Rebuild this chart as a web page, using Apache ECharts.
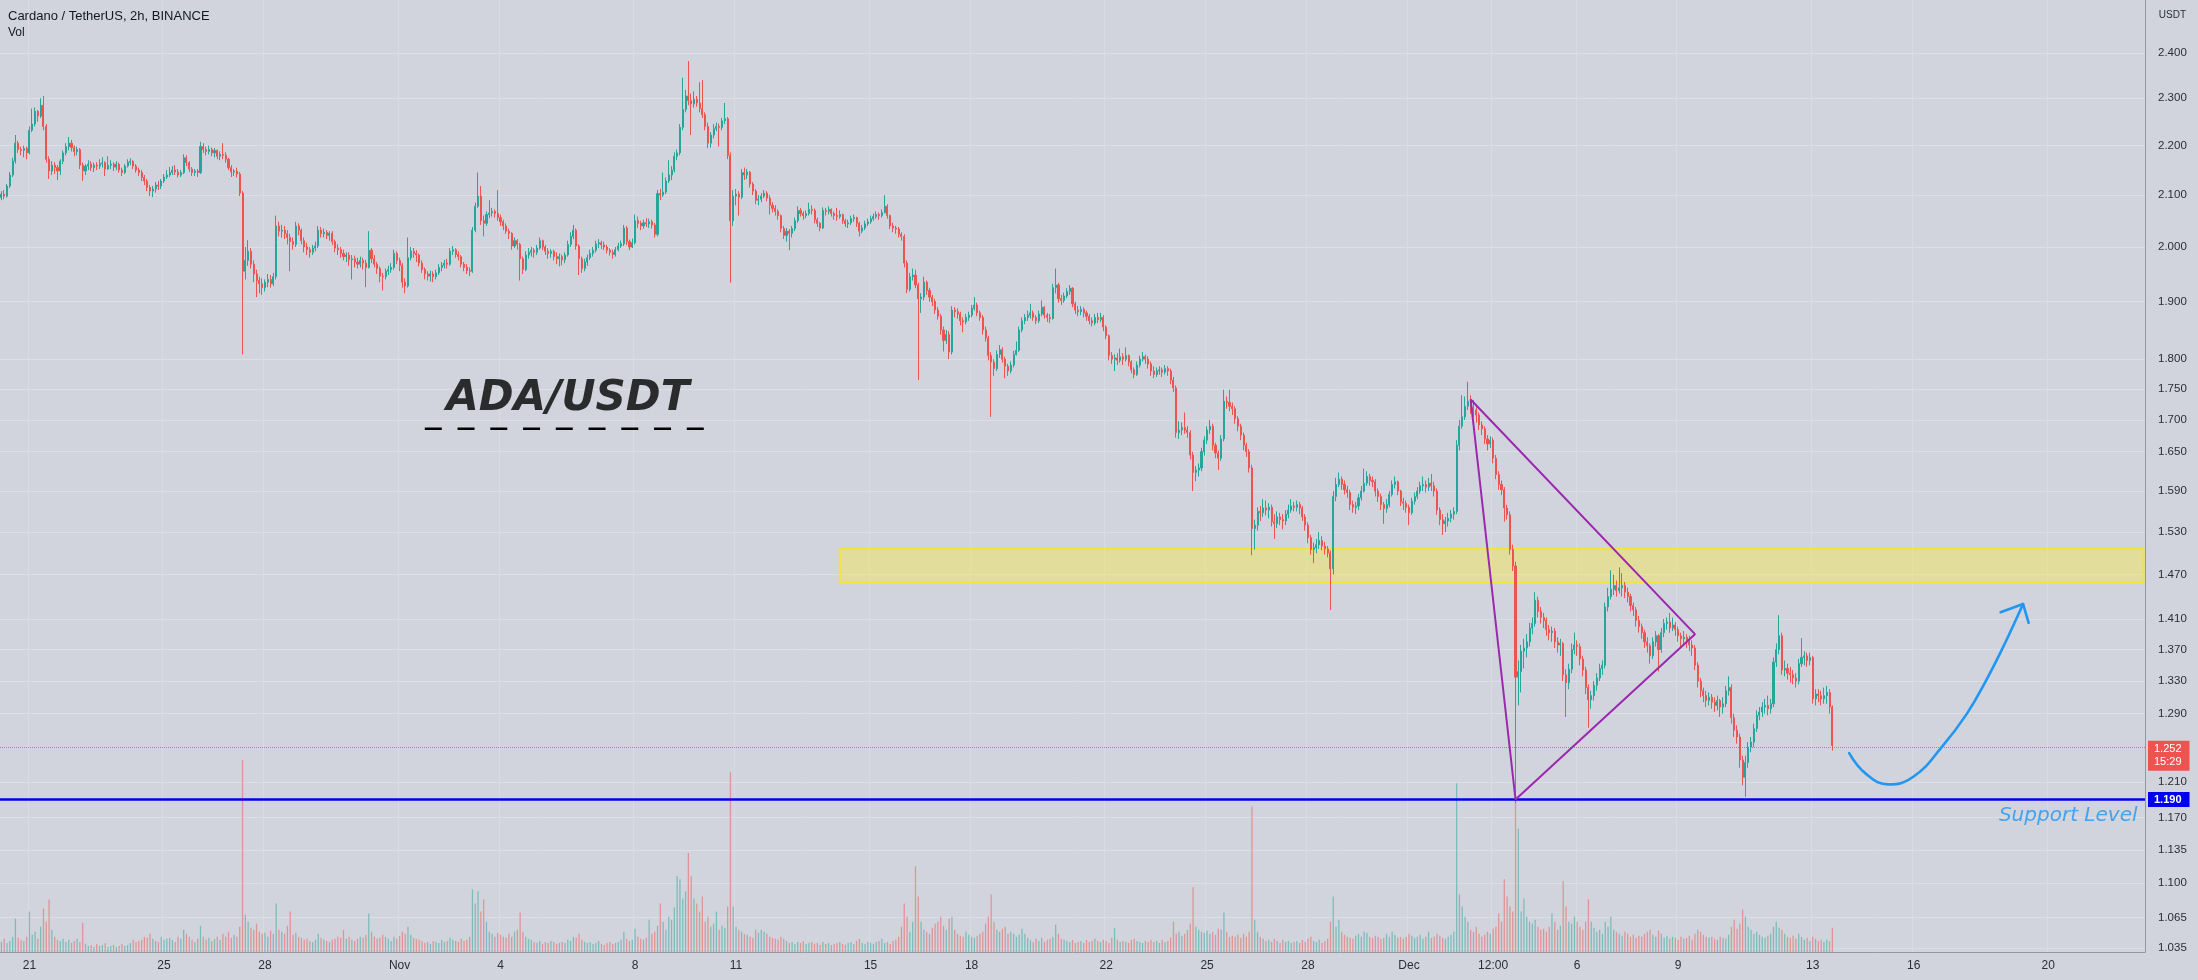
<!DOCTYPE html>
<html><head><meta charset="utf-8">
<script src="https://cdn.jsdelivr.net/npm/echarts@6/dist/echarts.min.js"></script>
<style>html,body{margin:0;padding:0;background:#d1d4dc;}#c{width:2198px;height:980px;}</style>
</head><body><div id="c"></div>
<script>
// ---- DATA (ADA/USDT 2h, Binance) ----
const firstSlotUTC = [2021, 9, 20, 4];   // first 2h slot: 2021-10-20 04:00
const slotCount = 765;                   // slots on the axis (incl. empty future)
const open = [
2.095,2.102,2.098,2.118,2.140,2.168,2.205,2.192,2.190,2.194,
2.185,2.232,2.245,2.272,2.262,2.285,2.240,2.172,2.148,2.160,
2.155,2.148,2.168,2.185,2.198,2.205,2.196,2.188,2.192,2.160,
2.148,2.158,2.162,2.155,2.160,2.158,2.163,2.165,2.152,2.160,
2.162,2.156,2.162,2.150,2.145,2.158,2.166,2.168,2.158,2.150,
2.145,2.135,2.128,2.115,2.108,2.112,2.120,2.118,2.128,2.136,
2.140,2.145,2.150,2.146,2.140,2.145,2.175,2.165,2.152,2.145,
2.148,2.145,2.198,2.192,2.188,2.192,2.185,2.190,2.178,2.182,
2.180,2.172,2.155,2.146,2.148,2.142,2.104,1.955,1.975,1.992,
1.968,1.950,1.938,1.932,1.925,1.935,1.940,1.932,1.945,2.040,
2.030,2.032,2.025,2.018,2.010,2.005,2.040,2.032,2.012,2.000,
1.995,1.990,1.998,2.002,2.032,2.025,2.028,2.022,2.026,2.010,
1.998,1.995,1.988,1.982,1.985,1.976,1.978,1.972,1.968,1.975,
1.970,1.962,1.994,1.978,1.968,1.960,1.946,1.945,1.955,1.958,
1.962,1.988,1.975,1.966,1.935,1.928,1.980,1.992,1.988,1.985,
1.970,1.958,1.950,1.946,1.950,1.945,1.952,1.962,1.966,1.970,
1.968,1.992,1.995,1.986,1.982,1.968,1.962,1.956,1.955,2.032,
2.078,2.098,2.050,2.045,2.062,2.065,2.068,2.064,2.056,2.048,
2.040,2.030,2.026,2.002,2.012,2.005,1.978,1.958,1.985,1.990,
1.994,1.990,1.998,2.012,2.000,1.992,1.988,1.992,1.982,1.978,
1.982,1.976,1.985,2.005,2.020,2.032,2.002,1.978,1.960,1.972,
1.980,1.988,1.994,2.006,2.008,2.004,2.000,1.994,1.990,1.986,
1.995,2.002,2.006,2.036,2.010,2.000,2.008,2.050,2.045,2.040,
2.046,2.044,2.048,2.042,2.024,2.103,2.100,2.106,2.128,2.140,
2.150,2.178,2.185,2.238,2.276,2.305,2.295,2.288,2.298,2.290,
2.278,2.265,2.240,2.205,2.222,2.235,2.240,2.238,2.252,2.256,
2.180,2.050,2.098,2.102,2.096,2.145,2.140,2.146,2.122,2.108,
2.090,2.092,2.098,2.104,2.094,2.080,2.074,2.068,2.060,2.035,
2.022,2.030,2.026,2.035,2.050,2.070,2.064,2.060,2.064,2.072,
2.070,2.052,2.045,2.036,2.070,2.068,2.072,2.064,2.060,2.058,
2.062,2.050,2.044,2.046,2.054,2.056,2.045,2.030,2.036,2.044,
2.048,2.054,2.058,2.062,2.060,2.066,2.078,2.060,2.040,2.036,
2.034,2.024,2.020,1.970,1.922,1.945,1.948,1.930,1.905,1.908,
1.935,1.920,1.908,1.900,1.885,1.874,1.850,1.832,1.842,1.812,
1.885,1.882,1.878,1.866,1.864,1.872,1.876,1.888,1.894,1.880,
1.872,1.850,1.836,1.806,1.795,1.784,1.808,1.816,1.800,1.788,
1.780,1.790,1.808,1.815,1.850,1.866,1.872,1.876,1.880,1.872,
1.866,1.878,1.890,1.876,1.872,1.870,1.925,1.930,1.905,1.902,
1.910,1.918,1.924,1.896,1.885,1.882,1.886,1.880,1.874,1.866,
1.862,1.872,1.868,1.872,1.855,1.840,1.806,1.800,1.802,1.798,
1.804,1.800,1.806,1.795,1.782,1.774,1.790,1.800,1.804,1.800,
1.792,1.780,1.774,1.780,1.782,1.778,1.784,1.780,1.765,1.752,
1.680,1.684,1.688,1.684,1.680,1.645,1.618,1.622,1.625,1.650,
1.668,1.684,1.690,1.660,1.648,1.640,1.670,1.730,1.728,1.722,
1.718,1.702,1.690,1.676,1.660,1.650,1.625,1.535,1.540,1.560,
1.558,1.565,1.562,1.566,1.545,1.542,1.552,1.548,1.546,1.556,
1.562,1.568,1.566,1.570,1.565,1.552,1.540,1.522,1.505,1.508,
1.512,1.518,1.510,1.506,1.500,1.478,1.582,1.600,1.608,1.600,
1.592,1.588,1.570,1.566,1.568,1.580,1.590,1.602,1.612,1.606,
1.604,1.590,1.582,1.570,1.564,1.570,1.585,1.600,1.604,1.590,
1.574,1.572,1.566,1.558,1.575,1.582,1.590,1.598,1.600,1.596,
1.602,1.598,1.590,1.562,1.548,1.542,1.546,1.550,1.556,1.560,
1.660,1.690,1.705,1.722,1.730,1.720,1.716,1.708,1.692,1.686,
1.670,1.662,1.668,1.640,1.615,1.600,1.592,1.565,1.555,1.505,
1.482,1.335,1.342,1.368,1.372,1.380,1.398,1.404,1.435,1.420,
1.412,1.408,1.396,1.392,1.394,1.380,1.376,1.378,1.338,1.328,
1.345,1.370,1.376,1.374,1.358,1.344,1.322,1.307,1.312,1.325,
1.334,1.346,1.350,1.426,1.440,1.450,1.455,1.448,1.452,1.455,
1.446,1.440,1.428,1.422,1.408,1.400,1.392,1.380,1.375,1.362,
1.380,1.388,1.370,1.392,1.404,1.406,1.398,1.402,1.396,1.388,
1.384,1.386,1.380,1.376,1.372,1.350,1.330,1.318,1.312,1.306,
1.310,1.304,1.300,1.306,1.298,1.302,1.318,1.322,1.285,1.270,
1.262,1.235,1.215,1.232,1.250,1.256,1.272,1.288,1.292,1.298,
1.300,1.296,1.302,1.354,1.370,1.388,1.344,1.346,1.340,1.338,
1.334,1.330,1.352,1.360,1.362,1.356,1.360,1.308,1.314,1.312,
1.308,1.312,1.316,1.298
];
const high = [
2.108,2.110,2.122,2.146,2.175,2.222,2.210,2.198,2.200,2.198,
2.240,2.278,2.280,2.275,2.300,2.305,2.245,2.178,2.168,2.166,
2.160,2.172,2.190,2.205,2.218,2.212,2.200,2.198,2.195,2.165,
2.162,2.170,2.168,2.165,2.166,2.172,2.176,2.168,2.178,2.170,
2.166,2.168,2.165,2.155,2.162,2.172,2.174,2.170,2.162,2.155,
2.150,2.140,2.132,2.120,2.118,2.126,2.128,2.132,2.142,2.150,
2.156,2.158,2.160,2.152,2.150,2.182,2.180,2.168,2.156,2.152,
2.152,2.208,2.205,2.198,2.200,2.196,2.195,2.192,2.188,2.205,
2.186,2.175,2.160,2.152,2.155,2.146,2.108,2.000,2.013,1.998,
1.975,1.958,1.945,1.942,1.940,1.950,1.948,1.952,2.060,2.048,
2.042,2.040,2.032,2.025,2.018,2.048,2.045,2.035,2.018,2.008,
2.000,2.004,2.010,2.040,2.038,2.035,2.032,2.030,2.030,2.014,
2.005,2.000,1.995,1.990,1.990,1.985,1.984,1.980,1.982,1.980,
1.976,2.030,1.998,1.985,1.972,1.964,1.952,1.960,1.965,1.970,
1.995,1.992,1.980,1.970,1.942,2.018,2.000,1.998,1.994,1.988,
1.975,1.962,1.955,1.956,1.955,1.958,1.968,1.972,1.976,1.978,
1.998,2.002,1.998,1.992,1.985,1.972,1.968,1.962,2.038,2.085,
2.145,2.118,2.060,2.068,2.090,2.075,2.072,2.110,2.062,2.052,
2.045,2.035,2.028,2.018,2.015,2.008,1.982,1.992,1.998,2.000,
1.998,2.004,2.018,2.014,2.004,1.998,1.996,1.995,1.990,1.988,
1.986,1.990,2.012,2.028,2.042,2.035,2.005,1.982,1.978,1.986,
1.995,2.000,2.012,2.015,2.012,2.010,2.004,1.998,1.995,2.000,
2.008,2.012,2.042,2.040,2.014,2.016,2.062,2.058,2.050,2.052,
2.055,2.054,2.052,2.046,2.110,2.112,2.145,2.135,2.170,2.158,
2.186,2.192,2.245,2.345,2.318,2.382,2.310,2.315,2.305,2.335,
2.340,2.270,2.248,2.228,2.245,2.248,2.246,2.258,2.290,2.260,
2.186,2.110,2.112,2.108,2.152,2.155,2.152,2.148,2.126,2.112,
2.100,2.104,2.110,2.108,2.100,2.086,2.080,2.072,2.062,2.040,
2.036,2.034,2.040,2.056,2.078,2.075,2.068,2.070,2.085,2.080,
2.074,2.056,2.048,2.076,2.075,2.078,2.074,2.068,2.075,2.070,
2.064,2.054,2.052,2.060,2.062,2.058,2.048,2.042,2.050,2.054,
2.060,2.064,2.068,2.066,2.072,2.100,2.082,2.062,2.046,2.040,
2.038,2.028,2.024,1.975,1.952,1.960,1.958,1.934,1.915,1.945,
1.938,1.925,1.912,1.905,1.890,1.878,1.856,1.850,1.848,1.892,
1.890,1.888,1.882,1.872,1.878,1.882,1.894,1.908,1.898,1.884,
1.876,1.856,1.840,1.812,1.800,1.815,1.824,1.820,1.804,1.792,
1.796,1.814,1.830,1.856,1.872,1.878,1.884,1.896,1.884,1.876,
1.884,1.902,1.892,1.880,1.878,1.932,1.960,1.934,1.912,1.916,
1.924,1.930,1.926,1.900,1.892,1.892,1.890,1.884,1.878,1.872,
1.878,1.880,1.880,1.876,1.858,1.842,1.812,1.808,1.810,1.818,
1.810,1.820,1.808,1.798,1.786,1.796,1.806,1.812,1.808,1.805,
1.796,1.788,1.786,1.788,1.786,1.790,1.788,1.784,1.770,1.756,
1.698,1.696,1.712,1.690,1.684,1.650,1.628,1.632,1.656,1.674,
1.690,1.700,1.694,1.664,1.652,1.676,1.749,1.738,1.749,1.728,
1.722,1.706,1.694,1.680,1.664,1.654,1.630,1.548,1.566,1.568,
1.578,1.576,1.572,1.570,1.556,1.560,1.558,1.556,1.562,1.570,
1.578,1.574,1.576,1.574,1.568,1.556,1.544,1.526,1.515,1.520,
1.530,1.524,1.516,1.510,1.504,1.590,1.610,1.618,1.612,1.606,
1.598,1.592,1.576,1.574,1.586,1.598,1.624,1.620,1.616,1.612,
1.608,1.594,1.586,1.574,1.578,1.590,1.606,1.612,1.606,1.592,
1.580,1.576,1.570,1.580,1.588,1.596,1.604,1.612,1.606,1.610,
1.616,1.604,1.594,1.566,1.556,1.552,1.558,1.562,1.566,1.668,
1.700,1.740,1.738,1.762,1.740,1.732,1.724,1.712,1.698,1.690,
1.676,1.674,1.672,1.645,1.620,1.606,1.596,1.570,1.560,1.512,
1.488,1.356,1.376,1.384,1.390,1.405,1.412,1.446,1.440,1.426,
1.418,1.412,1.402,1.400,1.398,1.386,1.384,1.380,1.345,1.352,
1.378,1.392,1.382,1.378,1.362,1.348,1.326,1.318,1.330,1.340,
1.352,1.356,1.432,1.452,1.476,1.470,1.462,1.480,1.472,1.460,
1.452,1.444,1.432,1.426,1.414,1.404,1.396,1.386,1.378,1.386,
1.394,1.390,1.398,1.410,1.412,1.418,1.412,1.406,1.400,1.392,
1.394,1.390,1.388,1.382,1.376,1.354,1.334,1.322,1.318,1.316,
1.314,1.310,1.312,1.308,1.310,1.324,1.336,1.326,1.290,1.276,
1.266,1.240,1.240,1.256,1.262,1.278,1.294,1.298,1.304,1.308,
1.312,1.308,1.360,1.378,1.415,1.392,1.356,1.352,1.348,1.344,
1.340,1.358,1.385,1.368,1.366,1.366,1.362,1.320,1.320,1.318,
1.322,1.324,1.320,1.300
];
const low = [
2.090,2.092,2.095,2.114,2.136,2.163,2.185,2.180,2.176,2.172,
2.182,2.228,2.240,2.250,2.258,2.232,2.165,2.132,2.140,2.142,
2.130,2.140,2.162,2.180,2.190,2.188,2.178,2.180,2.152,2.128,
2.140,2.150,2.148,2.146,2.150,2.152,2.155,2.138,2.150,2.152,
2.148,2.150,2.145,2.138,2.142,2.155,2.160,2.152,2.145,2.138,
2.128,2.120,2.108,2.098,2.096,2.105,2.110,2.112,2.124,2.132,
2.136,2.140,2.140,2.135,2.136,2.142,2.158,2.146,2.138,2.138,
2.136,2.142,2.185,2.180,2.182,2.178,2.176,2.172,2.170,2.172,
2.165,2.150,2.136,2.138,2.135,2.098,1.808,1.940,1.965,1.960,
1.935,1.908,1.915,1.912,1.918,1.926,1.925,1.928,1.940,2.020,
2.018,2.015,2.005,1.955,1.995,2.000,2.022,2.005,1.990,1.985,
1.980,1.985,1.992,1.998,2.018,2.018,2.015,2.012,2.004,1.990,
1.985,1.980,1.975,1.972,1.965,1.940,1.962,1.960,1.962,1.958,
1.926,1.960,1.970,1.962,1.950,1.935,1.920,1.940,1.948,1.952,
1.958,1.968,1.955,1.925,1.915,1.925,1.975,1.980,1.972,1.964,
1.952,1.940,1.938,1.936,1.935,1.940,1.948,1.955,1.960,1.960,
1.965,1.985,1.980,1.975,1.962,1.955,1.950,1.946,1.952,2.028,
2.075,2.042,2.020,2.040,2.055,2.058,2.056,2.050,2.040,2.032,
2.025,2.015,1.995,1.998,1.995,1.938,1.950,1.955,1.978,1.982,
1.980,1.985,1.995,1.994,1.985,1.978,1.980,1.975,1.968,1.964,
1.966,1.970,1.982,2.000,2.015,1.995,1.948,1.952,1.955,1.965,
1.976,1.982,1.990,1.998,1.996,1.994,1.988,1.984,1.978,1.982,
1.992,1.998,2.002,2.004,1.994,1.998,2.005,2.036,2.032,2.035,
2.038,2.036,2.035,2.018,2.020,2.090,2.096,2.102,2.124,2.130,
2.145,2.170,2.180,2.232,2.270,2.285,2.222,2.280,2.282,2.270,
2.258,2.232,2.195,2.196,2.215,2.230,2.198,2.232,2.245,2.172,
1.934,2.040,2.080,2.060,2.092,2.130,2.132,2.115,2.100,2.082,
2.080,2.086,2.094,2.088,2.062,2.066,2.060,2.052,2.028,2.015,
2.010,1.994,2.018,2.030,2.046,2.058,2.052,2.055,2.060,2.062,
2.045,2.038,2.030,2.034,2.060,2.062,2.058,2.052,2.050,2.054,
2.044,2.038,2.036,2.042,2.048,2.038,2.020,2.026,2.032,2.040,
2.044,2.050,2.054,2.052,2.056,2.064,2.054,2.034,2.028,2.025,
2.018,2.012,1.962,1.915,1.918,1.938,1.924,1.765,1.880,1.902,
1.912,1.900,1.892,1.878,1.868,1.842,1.813,1.826,1.800,1.808,
1.872,1.870,1.858,1.846,1.860,1.866,1.872,1.884,1.874,1.866,
1.842,1.830,1.798,1.705,1.772,1.780,1.802,1.794,1.768,1.772,
1.776,1.786,1.806,1.812,1.846,1.860,1.866,1.870,1.866,1.860,
1.862,1.874,1.870,1.864,1.862,1.868,1.915,1.898,1.894,1.898,
1.906,1.912,1.890,1.878,1.874,1.876,1.872,1.866,1.860,1.856,
1.858,1.862,1.864,1.848,1.834,1.798,1.792,1.780,1.790,1.794,
1.790,1.796,1.788,1.776,1.768,1.772,1.786,1.796,1.792,1.784,
1.772,1.768,1.770,1.774,1.770,1.774,1.772,1.758,1.745,1.672,
1.670,1.676,1.678,1.672,1.638,1.590,1.605,1.612,1.620,1.644,
1.662,1.678,1.652,1.640,1.622,1.636,1.666,1.718,1.714,1.708,
1.694,1.682,1.668,1.652,1.642,1.618,1.497,1.505,1.532,1.546,
1.552,1.554,1.550,1.538,1.520,1.536,1.540,1.534,1.540,1.550,
1.558,1.560,1.560,1.556,1.546,1.532,1.514,1.498,1.486,1.500,
1.506,1.504,1.498,1.494,1.422,1.470,1.575,1.596,1.592,1.585,
1.580,1.562,1.558,1.556,1.562,1.576,1.588,1.598,1.598,1.596,
1.582,1.574,1.562,1.542,1.558,1.566,1.582,1.594,1.584,1.568,
1.562,1.558,1.540,1.555,1.570,1.578,1.586,1.590,1.588,1.590,
1.590,1.582,1.555,1.540,1.526,1.530,1.538,1.544,1.548,1.556,
1.652,1.686,1.700,1.716,1.710,1.704,1.696,1.684,1.676,1.662,
1.652,1.656,1.632,1.608,1.592,1.584,1.545,1.548,1.498,1.475,
1.186,1.300,1.316,1.346,1.360,1.374,1.390,1.400,1.412,1.404,
1.398,1.388,1.382,1.380,1.372,1.366,1.362,1.330,1.286,1.320,
1.340,1.364,1.362,1.350,1.336,1.314,1.273,1.296,1.306,1.318,
1.330,1.338,1.346,1.420,1.436,1.442,1.440,1.444,1.440,1.438,
1.432,1.420,1.414,1.400,1.392,1.384,1.372,1.366,1.352,1.358,
1.374,1.342,1.366,1.386,1.396,1.392,1.394,1.388,1.380,1.372,
1.376,1.372,1.368,1.362,1.344,1.322,1.310,1.304,1.298,1.300,
1.296,1.292,1.294,1.286,1.290,1.298,1.312,1.278,1.262,1.254,
1.226,1.206,1.193,1.226,1.244,1.250,1.268,1.282,1.286,1.290,
1.288,1.290,1.298,1.348,1.364,1.338,1.336,1.332,1.328,1.326,
1.322,1.326,1.348,1.350,1.348,1.350,1.302,1.300,1.304,1.300,
1.302,1.302,1.290,1.246
];
const close = [
2.102,2.098,2.118,2.140,2.168,2.205,2.192,2.190,2.194,2.185,
2.232,2.245,2.272,2.262,2.285,2.240,2.172,2.148,2.160,2.155,
2.148,2.168,2.185,2.198,2.205,2.196,2.188,2.192,2.160,2.148,
2.158,2.162,2.155,2.160,2.158,2.163,2.165,2.152,2.160,2.162,
2.156,2.162,2.150,2.145,2.158,2.166,2.168,2.158,2.150,2.145,
2.135,2.128,2.115,2.108,2.112,2.120,2.118,2.128,2.136,2.140,
2.145,2.150,2.146,2.140,2.145,2.175,2.165,2.152,2.145,2.148,
2.145,2.198,2.192,2.188,2.192,2.185,2.190,2.178,2.182,2.180,
2.172,2.155,2.146,2.148,2.142,2.104,1.955,1.975,1.992,1.968,
1.950,1.938,1.932,1.925,1.935,1.940,1.932,1.945,2.040,2.030,
2.032,2.025,2.018,2.010,2.005,2.040,2.032,2.012,2.000,1.995,
1.990,1.998,2.002,2.032,2.025,2.028,2.022,2.026,2.010,1.998,
1.995,1.988,1.982,1.985,1.976,1.978,1.972,1.968,1.975,1.970,
1.962,1.994,1.978,1.968,1.960,1.946,1.945,1.955,1.958,1.962,
1.988,1.975,1.966,1.935,1.928,1.980,1.992,1.988,1.985,1.970,
1.958,1.950,1.946,1.950,1.945,1.952,1.962,1.966,1.970,1.968,
1.992,1.995,1.986,1.982,1.968,1.962,1.956,1.955,2.032,2.078,
2.098,2.050,2.045,2.062,2.065,2.068,2.064,2.056,2.048,2.040,
2.030,2.026,2.002,2.012,2.005,1.978,1.958,1.985,1.990,1.994,
1.990,1.998,2.012,2.000,1.992,1.988,1.992,1.982,1.978,1.982,
1.976,1.985,2.005,2.020,2.032,2.002,1.978,1.960,1.972,1.980,
1.988,1.994,2.006,2.008,2.004,2.000,1.994,1.990,1.986,1.995,
2.002,2.006,2.036,2.010,2.000,2.008,2.050,2.045,2.040,2.046,
2.044,2.048,2.042,2.024,2.103,2.100,2.106,2.128,2.140,2.150,
2.178,2.185,2.238,2.276,2.305,2.295,2.288,2.298,2.290,2.278,
2.265,2.240,2.205,2.222,2.235,2.240,2.238,2.252,2.256,2.180,
2.050,2.098,2.102,2.096,2.145,2.140,2.146,2.122,2.108,2.090,
2.092,2.098,2.104,2.094,2.080,2.074,2.068,2.060,2.035,2.022,
2.030,2.026,2.035,2.050,2.070,2.064,2.060,2.064,2.072,2.070,
2.052,2.045,2.036,2.070,2.068,2.072,2.064,2.060,2.058,2.062,
2.050,2.044,2.046,2.054,2.056,2.045,2.030,2.036,2.044,2.048,
2.054,2.058,2.062,2.060,2.066,2.078,2.060,2.040,2.036,2.034,
2.024,2.020,1.970,1.922,1.945,1.948,1.930,1.905,1.908,1.935,
1.920,1.908,1.900,1.885,1.874,1.850,1.832,1.842,1.812,1.885,
1.882,1.878,1.866,1.864,1.872,1.876,1.888,1.894,1.880,1.872,
1.850,1.836,1.806,1.795,1.784,1.808,1.816,1.800,1.788,1.780,
1.790,1.808,1.815,1.850,1.866,1.872,1.876,1.880,1.872,1.866,
1.878,1.890,1.876,1.872,1.870,1.925,1.930,1.905,1.902,1.910,
1.918,1.924,1.896,1.885,1.882,1.886,1.880,1.874,1.866,1.862,
1.872,1.868,1.872,1.855,1.840,1.806,1.800,1.802,1.798,1.804,
1.800,1.806,1.795,1.782,1.774,1.790,1.800,1.804,1.800,1.792,
1.780,1.774,1.780,1.782,1.778,1.784,1.780,1.765,1.752,1.680,
1.684,1.688,1.684,1.680,1.645,1.618,1.622,1.625,1.650,1.668,
1.684,1.690,1.660,1.648,1.640,1.670,1.730,1.728,1.722,1.718,
1.702,1.690,1.676,1.660,1.650,1.625,1.535,1.540,1.560,1.558,
1.565,1.562,1.566,1.545,1.542,1.552,1.548,1.546,1.556,1.562,
1.568,1.566,1.570,1.565,1.552,1.540,1.522,1.505,1.508,1.512,
1.518,1.510,1.506,1.500,1.478,1.582,1.600,1.608,1.600,1.592,
1.588,1.570,1.566,1.568,1.580,1.590,1.602,1.612,1.606,1.604,
1.590,1.582,1.570,1.564,1.570,1.585,1.600,1.604,1.590,1.574,
1.572,1.566,1.558,1.575,1.582,1.590,1.598,1.600,1.596,1.602,
1.598,1.590,1.562,1.548,1.542,1.546,1.550,1.556,1.560,1.660,
1.690,1.705,1.722,1.730,1.720,1.716,1.708,1.692,1.686,1.670,
1.662,1.668,1.640,1.615,1.600,1.592,1.565,1.555,1.505,1.482,
1.335,1.342,1.368,1.372,1.380,1.398,1.404,1.435,1.420,1.412,
1.408,1.396,1.392,1.394,1.380,1.376,1.378,1.338,1.328,1.345,
1.370,1.376,1.374,1.358,1.344,1.322,1.307,1.312,1.325,1.334,
1.346,1.350,1.426,1.440,1.450,1.455,1.448,1.452,1.455,1.446,
1.440,1.428,1.422,1.408,1.400,1.392,1.380,1.375,1.362,1.380,
1.388,1.370,1.392,1.404,1.406,1.398,1.402,1.396,1.388,1.384,
1.386,1.380,1.376,1.372,1.350,1.330,1.318,1.312,1.306,1.310,
1.304,1.300,1.306,1.298,1.302,1.318,1.322,1.285,1.270,1.262,
1.235,1.215,1.232,1.250,1.256,1.272,1.288,1.292,1.298,1.300,
1.296,1.302,1.354,1.370,1.388,1.344,1.346,1.340,1.338,1.334,
1.330,1.352,1.360,1.362,1.356,1.360,1.308,1.314,1.312,1.308,
1.312,1.316,1.298,1.252
];
// volume, millions of ADA
const volume = [
20,26,18,22,30,66,28,24,22,30, 80,34,40,26,50,86,60,104,44,30, 24,22,26,20,24,18,22,26,20,58,
16,12,14,10,16,12,14,18,10,12, 14,10,12,16,12,14,18,24,20,22, 24,30,28,36,26,22,20,30,24,26,
28,24,20,30,26,44,36,30,24,20, 26,52,30,24,28,22,26,30,24,36, 30,40,28,34,30,50,380,74,60,48,
44,56,40,36,38,30,42,36,96,44, 40,36,52,80,34,38,30,28,24,26, 22,20,24,36,28,24,22,20,24,26,
30,28,44,26,30,24,22,26,30,28, 34,76,40,30,26,28,34,30,26,22, 30,26,32,40,36,50,34,28,26,24,
22,18,20,16,22,20,18,24,20,22, 28,24,22,20,26,22,24,30,124,96, 120,80,104,60,40,36,30,38,34,30,
28,36,30,40,44,78,40,30,26,24, 20,18,22,16,20,18,22,20,16,18, 20,18,24,22,30,28,36,24,20,18,
20,16,18,22,16,14,18,20,16,18, 20,24,40,26,22,24,46,30,26,24, 28,64,36,40,52,96,60,44,70,64,
88,150,144,106,120,196,150,106,96,80, 110,60,70,50,56,80,44,52,48,90, 356,90,50,44,40,36,34,30,28,44,
38,44,40,36,30,28,26,24,30,26, 22,18,20,16,20,18,22,16,18,20, 16,18,14,20,16,18,14,16,18,20,
16,14,18,20,16,22,26,18,16,20, 18,16,20,22,26,18,20,16,22,24, 30,50,96,70,40,60,170,110,60,44,
40,36,48,56,60,70,52,44,66,70, 44,36,32,30,40,34,30,28,32,36, 40,56,70,114,60,44,40,46,50,36,
40,36,30,34,46,36,28,24,20,26, 22,28,20,24,26,30,54,36,26,24, 22,20,24,18,20,22,18,24,20,22,
26,22,20,24,22,18,28,48,24,20, 22,20,18,24,26,22,20,18,22,20, 24,20,22,18,24,20,22,28,60,36,
40,32,36,44,56,128,50,44,40,38, 42,36,40,34,46,44,78,40,30,32, 30,34,28,36,30,40,288,64,40,30,
26,22,24,20,26,22,18,24,20,22, 18,20,22,18,24,20,26,30,22,20, 24,18,22,26,60,110,50,64,40,34,
30,28,26,32,36,30,40,38,30,28, 32,30,26,28,36,30,40,34,28,30, 26,30,36,32,28,30,34,26,30,40,
28,30,36,32,28,26,30,34,40,334, 114,90,70,60,44,40,50,36,30,34, 40,36,46,50,76,60,144,110,90,80,
310,244,80,106,70,60,56,64,50,44, 46,40,50,76,60,44,52,140,90,60, 56,70,60,50,44,60,104,60,48,40,
44,36,60,50,70,44,40,36,32,40, 36,30,34,28,32,30,36,40,44,34, 30,42,36,28,32,26,30,28,24,30,
26,28,32,24,36,44,40,34,30,28, 30,26,24,30,28,26,34,50,64,46, 56,84,70,50,44,36,40,34,30,28,
32,36,50,60,48,44,36,30,28,32, 26,36,30,24,28,22,30,26,22,24, 20,24,22,48
];
const volumeAxisMax = 380;
// x-axis tick labels
const tickDates = ['2021-10-21 00:00','2021-10-25 00:00','2021-10-28 00:00','2021-11-01 00:00','2021-11-04 00:00','2021-11-08 00:00','2021-11-11 00:00','2021-11-15 00:00','2021-11-18 00:00','2021-11-22 00:00','2021-11-25 00:00','2021-11-28 00:00','2021-12-01 00:00','2021-12-03 12:00','2021-12-06 00:00','2021-12-09 00:00','2021-12-13 00:00','2021-12-16 00:00','2021-12-20 00:00'];
const tickTexts = ['21','25','28','Nov','4','8','11','15','18','22','25','28','Dec','12:00','6','9','13','16','20'];
// price-axis tick labels
const priceTicks = [2.4,2.3,2.2,2.1,2.0,1.9,1.8,1.75,1.7,1.65,1.59,1.53,1.47,1.41,1.37,1.33,1.29,1.25,1.21,1.17,1.135,1.1,1.065,1.035];
const priceMin = 1.0311, priceMax = 2.5226;
// annotations
const supportPrice = 1.19;
const countdownText = '15:29';
const countdownLabelPrice = 1.2443;   // where the last-price tag box is centred
const zoneTimes = ['2021-11-14 02:00','2021-12-22 20:00'];
const zonePrices = [1.506, 1.459];
const triangleTimes = ['2021-12-02 20:00','2021-12-04 04:00','2021-12-09 12:00','2021-12-02 20:00'];
const trianglePrices = [1.733, 1.19, 1.39, 1.733];
const arrowTimes = ['2021-12-14 02:00','2021-12-14 14:00','2021-12-15 06:00','2021-12-16 00:00','2021-12-16 20:00','2021-12-17 14:00','2021-12-18 04:00','2021-12-18 16:00','2021-12-19 06:00'];
const arrowPrices = [1.243,1.219,1.207,1.216,1.250,1.290,1.332,1.374,1.430];
const arrowHeadTimes = ['2021-12-18 14:00','2021-12-19 06:00','2021-12-19 10:00'];
const arrowHeadPrices = [1.419,1.430,1.405];
const titleTime = '2021-11-06 00:00', titlePrice = 1.734;
const dashTimes = ['2021-11-01 18:00','2021-11-10 02:00'], dashPrice = 1.686;
const supportTextTime = '2021-12-22 16:00', supportTextPrice = 1.172;

// ---- build ----
function pad(n){return String(n).padStart(2,'0');}
function slotName(t){const d=new Date(t);return d.getUTCFullYear()+'-'+pad(d.getUTCMonth()+1)+'-'+pad(d.getUTCDate())+' '+pad(d.getUTCHours())+':00';}
const t0 = Date.UTC(firstSlotUTC[0],firstSlotUTC[1],firstSlotUTC[2],firstSlotUTC[3]);
const categories = [];
for (let i=0;i<slotCount;i++) categories.push(slotName(t0 + i*7200000));
const tickMap = {};
tickDates.forEach((d,k)=>{tickMap[d]=tickTexts[k];});
const candleData = close.map((c,i)=>[open[i], c, low[i], high[i]]);
const volData = volume.map((v,i)=>({value:v, itemStyle:{color: close[i]>=open[i] ? 'rgba(38,166,154,0.5)' : 'rgba(239,83,80,0.5)'}}));
const lastPrice = close[close.length-1];
const pairs = (ts, ps) => ts.map((t,k)=>[t, ps[k]]);

const BG = '#d1d4dc', GRIDH = '#dcdfe5', GRIDV = '#d8dbe1', TXT = '#2a2e39';
const chart = echarts.init(document.getElementById('c'), null, {renderer:'canvas', width:2198, height:980});
chart.setOption({
  backgroundColor: BG,
  animation: false,
  textStyle: {fontFamily: 'Liberation Sans, Arial, sans-serif'},
  title: [
    {text:'Cardano / TetherUS, 2h, BINANCE', left:8, top:10, padding:0, textStyle:{fontSize:13, fontWeight:'normal', color:'#131722'}},
    {text:'Vol', left:8, top:27, padding:0, textStyle:{fontSize:12, fontWeight:'normal', color:'#131722'}},
    {text:'USDT', right:12, top:10, padding:0, textStyle:{fontSize:10, fontWeight:'normal', color:TXT}}
  ],
  grid: [
    {left:0, right:53, top:0, bottom:28, containLabel:false, outerBoundsMode:'none'},
    {left:0, right:53, top:760, bottom:28, containLabel:false, outerBoundsMode:'none'}
  ],
  xAxis: [
    {type:'category', gridIndex:0, data:categories, boundaryGap:true,
     axisLine:{show:true, lineStyle:{color:'#9598a1', width:1}},
     axisTick:{show:false},
     axisLabel:{interval:(i,v)=>(v in tickMap), formatter:v=>tickMap[v]||'', color:TXT, fontSize:12, margin:8},
     splitLine:{show:true, interval:(i,v)=>(v in tickMap), lineStyle:{color:GRIDV, width:1}}},
    {type:'category', gridIndex:1, data:categories, boundaryGap:true, show:false}
  ],
  yAxis: [
    {type:'log', logBase:10, gridIndex:0, position:'right', min:priceMin, max:priceMax,
     axisLine:{show:true, lineStyle:{color:'#9598a1', width:1}},
     axisTick:{show:false, customValues:priceTicks},
     axisLabel:{customValues:priceTicks, formatter:v=>Number(v).toFixed(3), color:TXT, fontSize:11.5, margin:13},
     splitLine:{show:true, lineStyle:{color:GRIDH, width:1}}},
    {type:'value', gridIndex:1, min:0, max:volumeAxisMax, show:false, splitLine:{show:false}}
  ],
  series: [
    {type:'bar', name:'Vol', xAxisIndex:1, yAxisIndex:1, data:volData, barWidth:'45%', silent:true},
    {type:'candlestick', name:'ADA/USDT', xAxisIndex:0, yAxisIndex:0, data:candleData, large:false, barWidth:'55%',
     itemStyle:{color:'#26a69a', color0:'#ef5350', borderColor:'#26a69a', borderColor0:'#ef5350', borderWidth:1},
     markArea:{silent:true, itemStyle:{color:'rgba(255,235,59,0.4)', borderColor:'#f6e33a', borderWidth:2},
       data:[[{xAxis:zoneTimes[0], yAxis:zonePrices[0]},{xAxis:zoneTimes[1], yAxis:zonePrices[1]}]]},
     markLine:{silent:true, symbol:['none','none'], animation:false, data:[
       {yAxis:lastPrice, lineStyle:{color:'#ef5350', type:'dotted', width:1, opacity:0.9}, label:{show:false}},
       {yAxis:countdownLabelPrice, lineStyle:{color:'rgba(0,0,0,0)', width:1, opacity:1}, label:{show:true, position:'end', distance:3, opacity:1,
         formatter:lastPrice.toFixed(3)+'\n'+countdownText, backgroundColor:'#ef5350', color:'#ffffff', fontSize:11, lineHeight:13, padding:[2,8,2,6]}},
       {yAxis:supportPrice, lineStyle:{color:'#0000f0', type:'solid', width:2.5}, label:{show:true, position:'end', distance:3,
         formatter:supportPrice.toFixed(3), backgroundColor:'#0000f0', color:'#ffffff', fontSize:11, fontWeight:'bold', padding:[2,8,2,6]}}
     ]}},
    {type:'line', name:'triangle', xAxisIndex:0, yAxisIndex:0, data:pairs(triangleTimes, trianglePrices), symbol:'none', silent:true,
     lineStyle:{color:'#9c27b0', width:2}, z:5},
    {type:'line', name:'arrow', xAxisIndex:0, yAxisIndex:0, data:pairs(arrowTimes, arrowPrices), smooth:0.45, symbol:'none', silent:true,
     lineStyle:{color:'#2196f3', width:2.6, cap:'round', join:'round'}, z:5},
    {type:'line', name:'arrowhead', xAxisIndex:0, yAxisIndex:0, data:pairs(arrowHeadTimes, arrowHeadPrices), symbol:'none', silent:true,
     lineStyle:{color:'#2196f3', width:2.6, cap:'round', join:'round'}, z:5},
    {type:'line', name:'underline', xAxisIndex:0, yAxisIndex:0, data:[[dashTimes[0], dashPrice],[dashTimes[1], dashPrice]], symbol:'none', silent:true,
     lineStyle:{color:'#000000', width:2.5, type:[17,15.75]}, z:5},
    {type:'scatter', name:'title', xAxisIndex:0, yAxisIndex:0, data:[[titleTime, titlePrice]], symbolSize:1, silent:true,
     itemStyle:{color:'rgba(0,0,0,0)'},
     label:{show:true, position:'inside', formatter:'ADA/USDT', fontFamily:'DejaVu Sans', fontWeight:'bold', fontStyle:'italic', fontSize:42, color:'#000000'}, z:6},
    {type:'scatter', name:'support', xAxisIndex:0, yAxisIndex:0, data:[[supportTextTime, supportTextPrice]], symbolSize:1, silent:true,
     itemStyle:{color:'rgba(0,0,0,0)'},
     label:{show:true, position:'left', distance:0, formatter:'Support Level', fontFamily:'DejaVu Sans', fontStyle:'italic', fontSize:20, color:'#2196f3'}, z:6}
  ]
});
</script>
</body></html>
